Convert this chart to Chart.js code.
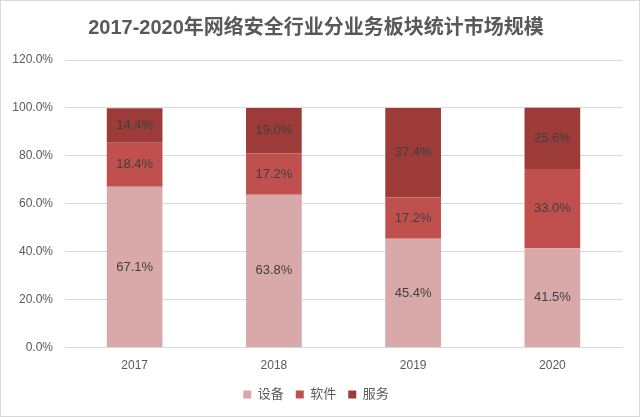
<!DOCTYPE html>
<html><head><meta charset="utf-8">
<script src="https://cdn.jsdelivr.net/npm/chart.js@4/dist/chart.umd.min.js"></script>
<style>html,body{margin:0;padding:0;background:#fff}#w{width:640px;height:417px;position:relative}</style>
</head><body><div id="w"><canvas id="c" width="640" height="417"></canvas></div>
<script>
const categories = ['2017','2018','2019','2020'];
const seriesNames = ['设备','软件','服务'];
const equipment = [67.1, 63.8, 45.4, 41.5];
const software = [18.4, 17.2, 17.2, 33.0];
const services = [14.4, 19.0, 37.4, 25.6];
const yTicks = [0, 20, 40, 60, 80, 100, 120];
const colors = ['#D9A8A8', '#C0504D', '#9D3B39'];
const FONT = '"Liberation Sans", "Noto Sans CJK SC", sans-serif';

const labelPlugin = {
  id: 'barLabels',
  afterDatasetsDraw(chart) {
    const ctx = chart.ctx;
    ctx.save();
    ctx.font = '13px ' + FONT;
    ctx.fillStyle = '#404040';
    ctx.textAlign = 'center';
    ctx.textBaseline = 'middle';
    chart.data.datasets.forEach((ds, i) => {
      const meta = chart.getDatasetMeta(i);
      meta.data.forEach((bar, j) => {
        const p = bar.getProps(['x','y','base'], true);
        ctx.fillText(ds.data[j].toFixed(1) + '%', p.x, (p.y + p.base) / 2);
      });
    });
    ctx.restore();
  }
};
const framePlugin = {
  id: 'frame',
  afterDraw(chart) {
    const ctx = chart.ctx;
    ctx.save();
    ctx.strokeStyle = '#D9D9D9';
    ctx.lineWidth = 1;
    ctx.strokeRect(0.5, 0.5, chart.width - 1, chart.height - 1);
    ctx.restore();
  }
};

new Chart(document.getElementById('c'), {
  type: 'bar',
  data: {
    labels: categories,
    datasets: [
      { label: seriesNames[0], data: equipment, backgroundColor: colors[0] },
      { label: seriesNames[1], data: software, backgroundColor: colors[1] },
      { label: seriesNames[2], data: services, backgroundColor: colors[2] }
    ]
  },
  options: {
    responsive: false,
    animation: false,
    layout: { padding: { left: 10, right: 18, bottom: 6, top: 0 } },
    datasets: { bar: { categoryPercentage: 1, barPercentage: 0.4 } },
    plugins: {
      title: {
        display: true,
        text: '2017-2020年网络安全行业分业务板块统计市场规模',
        color: '#595959',
        font: { family: FONT, size: 20, weight: 'bold' },
        padding: { top: 16, bottom: 20 }
      },
      legend: {
        position: 'bottom',
        labels: {
          color: '#595959',
          boxWidth: 8, boxHeight: 8,
          padding: 12,
          font: { family: FONT, size: 13 }
        }
      },
      tooltip: { enabled: false }
    },
    scales: {
      x: {
        stacked: true,
        grid: { display: false },
        border: { color: '#D9D9D9' },
        ticks: { color: '#595959', font: { family: FONT, size: 12 }, padding: 3 }
      },
      y: {
        stacked: true,
        min: 0, max: 120,
        afterBuildTicks(axis) { axis.ticks = yTicks.map(v => ({ value: v })); },
        afterFit(axis) { axis.width = 55; },
        grid: { color: '#D9D9D9', drawTicks: true, tickLength: 8, tickColor: '#fff' },
        border: { display: false },
        ticks: {
          color: '#595959',
          font: { family: FONT, size: 12 },
          padding: 4,
          callback: v => v.toFixed(1) + '%'
        }
      }
    }
  },
  plugins: [labelPlugin, framePlugin]
});
</script></body></html>
